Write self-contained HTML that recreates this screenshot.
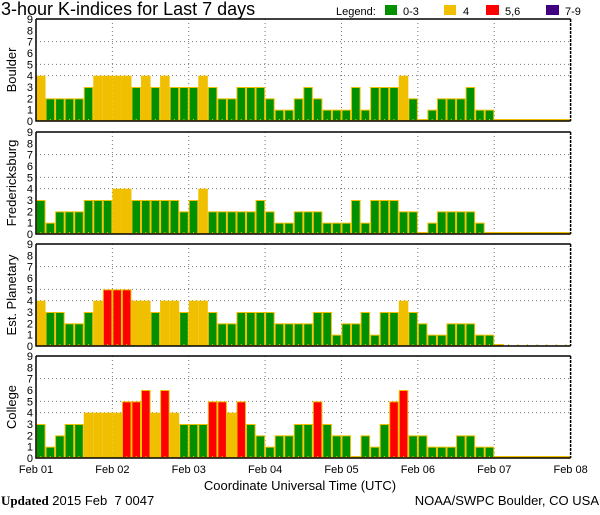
<!DOCTYPE html>
<html><head><meta charset="utf-8">
<style>
html,body{margin:0;padding:0;background:#fff;}
body{width:600px;height:510px;overflow:hidden;font-family:"Liberation Sans",sans-serif;}
svg text{font-family:"Liberation Sans",sans-serif;fill:#000;}
</style></head>
<body>
<svg id="chart" width="600" height="510" viewBox="0 0 600 510" xmlns="http://www.w3.org/2000/svg">
  <text x="1" y="15" font-size="18">3-hour K-indices for Last 7 days</text>
  <g>
    <text x="336" y="15" font-size="11">Legend:</text>
    <rect x="385" y="5" width="12" height="10" fill="#009000"/>
    <text x="403" y="15" font-size="11">0-3</text>
    <rect x="444" y="5" width="12" height="10" fill="#f0c000"/>
    <text x="463" y="15" font-size="11">4</text>
    <rect x="486" y="5" width="13" height="10" fill="#ff0000"/>
    <text x="505" y="15" font-size="11">5,6</text>
    <rect x="546" y="5" width="13" height="10" fill="#400080"/>
    <text x="565" y="15" font-size="11">7-9</text>
  </g>
  <g id="panels"></g>
  <text x="300" y="490" font-size="13" text-anchor="middle">Coordinate Universal Time (UTC)</text>
  <text x="1" y="505" font-size="13"><tspan font-family="Liberation Serif, serif" font-weight="bold">Updated</tspan> 2015 Feb&#160; 7 0047</text>
  <text x="599" y="505" font-size="13" text-anchor="end">NOAA/SWPC Boulder, CO USA</text>
</svg>
<script>
const stations = ["Boulder","Fredericksburg","Est. Planetary","College"];
const dayLabels = ["Feb 01","Feb 02","Feb 03","Feb 04","Feb 05","Feb 06","Feb 07","Feb 08"];
const yTicks = [0,1,2,3,4,5,6,7,8,9];
const boulder = [4,2,2,2,2,3,4,4,4,4,3,4,3,4,3,3,3,4,3,2,2,3,3,3,2,1,1,2,3,2,1,1,1,3,1,3,3,3,4,2,0,1,2,2,2,3,1,1,0,0,0,0,0,0,0,0];
const fredericksburg = [3,1,2,2,2,3,3,3,4,4,3,3,3,3,3,2,3,4,2,2,2,2,2,3,2,1,1,2,2,2,1,1,1,3,1,3,3,3,2,2,0,1,2,2,2,2,1,0,0,0,0,0,0,0,0,0];
const planetary = [4,3,3,2,2,3,4,5,5,5,4,4,3,4,4,3,4,4,3,2,2,3,3,3,3,2,2,2,2,3,3,1,2,2,3,1,3,3,4,3,2,1,1,2,2,2,1,1,0,null,null,null,null,null,null,null];
const college = [3,1,2,3,3,4,4,4,4,5,5,6,4,6,4,3,3,3,5,5,4,5,3,2,1,2,2,3,3,5,3,2,2,0,2,1,3,5,6,2,2,1,1,1,2,2,1,1,0,0,0,0,0,0,0,0];
const series = [boulder, fredericksburg, planetary, college];

const NS="http://www.w3.org/2000/svg";
const X0=36, X1=570.6, NB=56, PH=102;
const panelTops=[19,132,244,356];
function xScale(i){return X0+(X1-X0)*i/NB;}
function color(v){return v<=3?"#009000":v===4?"#f0c000":v<=6?"#ff0000":"#400080";}
function mk(tag,attrs,parent){const e=document.createElementNS(NS,tag);for(const k in attrs)e.setAttribute(k,attrs[k]);parent.appendChild(e);return e;}
const root=document.getElementById("panels");
series.forEach((vals,p)=>{
  const top=panelTops[p], bot=top+PH;
  const yScale=v=>bot-v*PH/9;
  const g=mk("g",{},root);
  
  
  [4,5,7].forEach(v=>{
    const l=mk("line",{x1:X0,x2:X1,y1:yScale(v),y2:yScale(v),stroke:"#777","stroke-dasharray":"1,3","stroke-width":1},g);
    
    
  });
  for(let d=1;d<7;d++){
    const x=xScale(d*8);
    const l=mk("line",{x1:x,x2:x,y1:top,y2:bot,stroke:"#777","stroke-dasharray":"1,3","stroke-width":1},g);
    
    
  }
  vals.forEach((v,i)=>{
    const x=xScale(i), w=xScale(i+1)-x;
    if(v!==null){
      const h=Math.max(v*PH/9,2);
      const r=mk("rect",{x:x+0.5,y:bot-h+0.5,width:w-1,height:h-1,fill:color(v),stroke:"#f0c000","stroke-width":1},g);
      
      
    }
    const t=mk("rect",{x:x+w/2-0.5,y:bot-2,width:1,height:2,fill:"#f0c000"},g);
    
    
  });
  const ax=mk("path",{d:`M${X0},${top} H${X1} M${X0},${top} V${bot} H${X1}`,stroke:"#000","stroke-width":1.5,fill:"none"},g);
  
  
  const rb=mk("line",{x1:X1,x2:X1,y1:top,y2:bot,stroke:"#000","stroke-width":1.5,"stroke-dasharray":"3,1"},g);
  
  
  yTicks.forEach(v=>{
    const t=mk("text",{x:33,y:yScale(v)+4,"font-size":11,"text-anchor":"end"},g);
    t.textContent=v;
    
    
  });
  const lab=mk("text",{x:0,y:0,"font-size":13,"text-anchor":"middle",transform:`translate(16,${top+PH/2}) rotate(-90)`},g);
  lab.textContent=stations[p];
  
  
});
dayLabels.forEach((d,i)=>{
  const t=mk("text",{x:xScale(i*8),y:473,"font-size":11,"text-anchor":"middle"},root);
  t.textContent=d;
  
  
});
</script>
</body></html>
